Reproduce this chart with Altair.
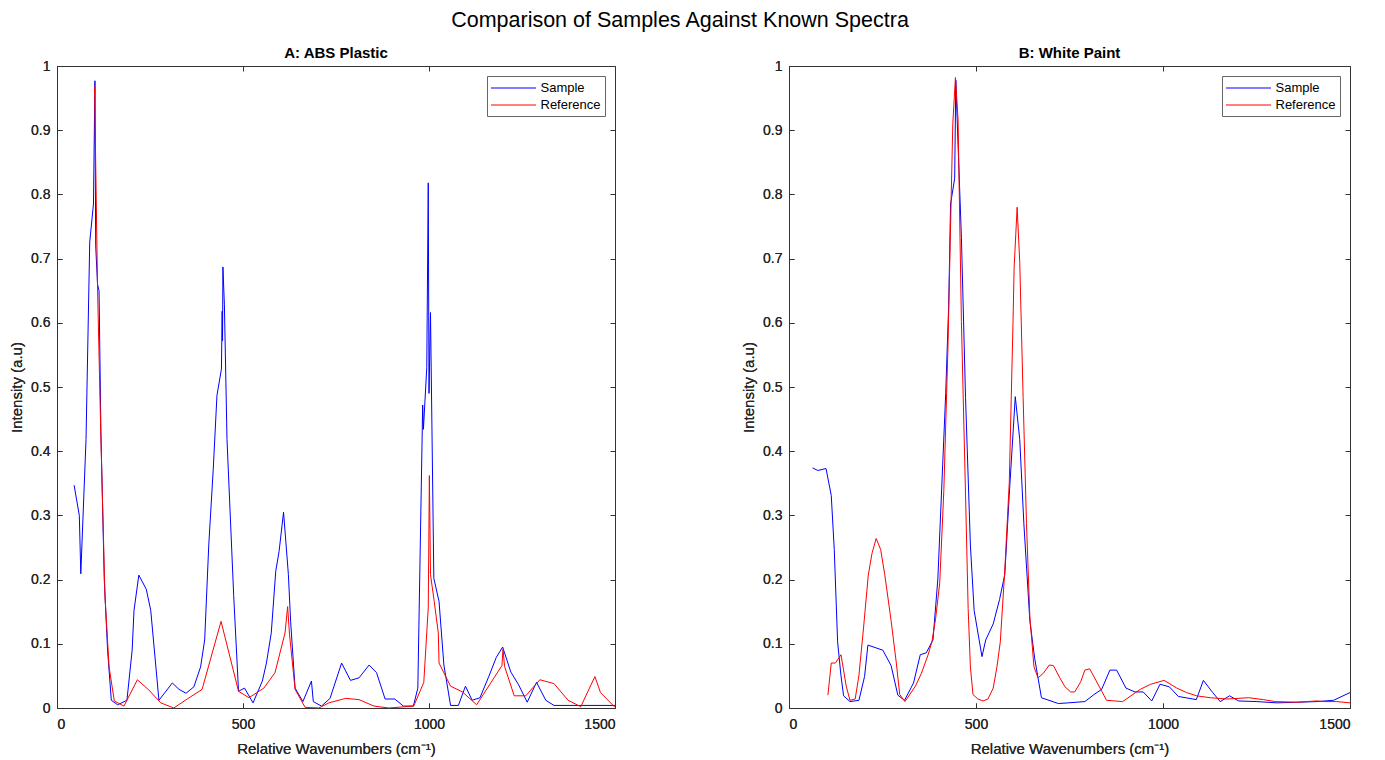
import altair as alt
import pandas as pd

# ---- Panel A: ABS Plastic ----
a_sample_x = [46, 60, 64, 78, 88, 98, 102, 104, 109, 113, 118, 127, 136, 146, 163, 188, 202, 207, 220, 240,
              252, 274, 310, 328, 347, 368, 386, 397, 408, 420, 430, 442, 444, 445, 446, 450, 457, 475, 488, 504,
              527, 552, 563, 576, 588, 597, 609, 622, 628, 640, 661, 684, 689, 711, 734, 765, 789, 812, 839, 859,
              882, 908, 931, 958, 970, 983, 985, 994, 998, 1000, 1004, 1013, 1027, 1040, 1058, 1079, 1098, 1116,
              1137, 1160, 1181, 1198, 1220, 1241, 1264, 1289, 1314, 1336, 1500]
a_sample_y = [0.347, 0.300, 0.209, 0.418, 0.726, 0.785, 0.977, 0.72, 0.66, 0.65, 0.43, 0.20, 0.09, 0.012, 0.005,
              0.012, 0.09, 0.152, 0.207, 0.185, 0.152, 0.012, 0.039, 0.029, 0.023, 0.033, 0.064, 0.106, 0.254,
              0.372, 0.487, 0.528, 0.618, 0.572, 0.687, 0.628, 0.418, 0.175, 0.026, 0.031, 0.008, 0.042, 0.070,
              0.117, 0.213, 0.244, 0.305, 0.208, 0.135, 0.031, 0.010, 0.042, 0.010, 0.003, 0.015, 0.070, 0.043,
              0.047, 0.067, 0.055, 0.014, 0.014, 0.003, 0.003, 0.031, 0.472, 0.434, 0.53, 0.818, 0.49, 0.616,
              0.202, 0.166, 0.067, 0.004, 0.004, 0.034, 0.012, 0.016, 0.048, 0.079, 0.095, 0.056, 0.036, 0.009,
              0.040, 0.012, 0.004, 0.004]
a_ref_x = [101, 109, 118, 129, 140, 154, 180, 216, 247, 279, 314, 350, 390, 441, 488, 516, 556, 586, 613, 620,
           625, 640, 667, 704, 731, 776, 812, 852, 892, 959, 986, 998, 1001, 1004, 1014, 1025, 1027, 1058, 1090,
           1128, 1196, 1199, 1203, 1229, 1260, 1298, 1336, 1374, 1408, 1446, 1461, 1500]
a_ref_y = [0.968, 0.654, 0.42, 0.174, 0.064, 0.011, 0.003, 0.044, 0.028, 0.008, 0.0, 0.014, 0.029, 0.135, 0.026,
           0.016, 0.031, 0.055, 0.117, 0.158, 0.115, 0.029, 0.001, 0.0, 0.008, 0.015, 0.013, 0.003, 0.0, 0.003,
           0.04, 0.156, 0.362, 0.208, 0.166, 0.117, 0.07, 0.034, 0.025, 0.005, 0.066, 0.092, 0.065, 0.019, 0.019,
           0.044, 0.038, 0.012, 0.002, 0.049, 0.024, 0.001]

# ---- Panel B: White Paint ----
b_sample_x = [63, 77, 99, 113, 121, 130, 139, 146, 163, 187, 202, 211, 251, 273, 291, 309, 333, 351, 367, 385,
              398, 409, 419, 427, 432, 443, 446, 452, 461, 472, 485, 495, 516, 526, 546, 563, 577, 589, 605, 617,
              628, 644, 657, 675, 720, 747, 791, 818, 836, 858, 876, 901, 925, 947, 970, 992, 1017, 1041, 1089,
              1108, 1133, 1153, 1178, 1202, 1251, 1305, 1358, 1412, 1456, 1500]
b_sample_y = [0.374, 0.370, 0.373, 0.331, 0.247, 0.103, 0.05, 0.019, 0.010, 0.012, 0.049, 0.098, 0.090, 0.066,
              0.020, 0.012, 0.039, 0.083, 0.086, 0.106, 0.201, 0.352, 0.49, 0.628, 0.785, 0.825, 0.978, 0.877,
              0.733, 0.484, 0.254, 0.152, 0.080, 0.106, 0.131, 0.169, 0.208, 0.333, 0.485, 0.418, 0.287, 0.136,
              0.077, 0.016, 0.007, 0.008, 0.010, 0.022, 0.029, 0.059, 0.059, 0.031, 0.025, 0.025, 0.011, 0.037,
              0.033, 0.018, 0.013, 0.043, 0.024, 0.010, 0.019, 0.011, 0.010, 0.008, 0.009, 0.010, 0.012, 0.024]
b_ref_x = [104, 113, 124, 139, 153, 163, 177, 187, 199, 212, 222, 233, 245, 256, 273, 287, 296, 310, 338, 354,
           372, 382, 392, 403, 414, 425, 434, 438, 445, 452, 461, 472, 479, 485, 492, 505, 519, 532, 546, 556,
           565, 577, 589, 599, 602, 610, 617, 626, 635, 644, 655, 666, 680, 696, 707, 724, 738, 753, 764, 780,
           791, 804, 830, 849, 871, 892, 939, 967, 1003, 1037, 1063, 1090, 1126, 1171, 1229, 1269, 1300, 1358,
           1412, 1430, 1465, 1500]
b_ref_y = [0.020, 0.070, 0.070, 0.083, 0.034, 0.012, 0.014, 0.051, 0.123, 0.207, 0.241, 0.264, 0.247, 0.208,
           0.136, 0.070, 0.021, 0.010, 0.034, 0.054, 0.083, 0.103, 0.139, 0.195, 0.339, 0.562, 0.805, 0.91, 0.982,
           0.917, 0.602, 0.333, 0.155, 0.064, 0.021, 0.014, 0.011, 0.014, 0.031, 0.064, 0.103, 0.215, 0.352,
           0.602, 0.687, 0.780, 0.694, 0.484, 0.287, 0.142, 0.064, 0.047, 0.054, 0.067, 0.066, 0.047, 0.033,
           0.025, 0.025, 0.041, 0.059, 0.061, 0.033, 0.012, 0.011, 0.010, 0.029, 0.037, 0.043, 0.031, 0.024,
           0.019, 0.016, 0.014, 0.016, 0.013, 0.010, 0.009, 0.011, 0.010, 0.010, 0.008]

series_names = ["Sample", "Reference"]
series_colors = ["#0000ff", "#ff0000"]
x_ticks = [0, 500, 1000, 1500]
y_ticks = [0, 0.1, 0.2, 0.3, 0.4, 0.5, 0.6, 0.7, 0.8, 0.9, 1]

FONT = "Liberation Sans, Arial, Helvetica, sans-serif"
INK = "#262626"


def make_df(sx, sy, rx, ry):
    return pd.concat([
        pd.DataFrame({"x": sx, "y": sy, "series": "Sample"}),
        pd.DataFrame({"x": rx, "y": ry, "series": "Reference"}),
    ], ignore_index=True)


def panel(df, title, w):
    base = alt.Chart(df)
    xs = alt.Scale(domain=[0, 1500], nice=False, zero=False)
    ys = alt.Scale(domain=[0, 1], nice=False)
    color = alt.Color(
        "series:N",
        scale=alt.Scale(domain=series_names, range=series_colors),
        legend=alt.Legend(title=None, orient="top-right"),
    )
    xb = alt.X("x:Q", scale=xs, axis=alt.Axis(
        orient="bottom", values=x_ticks, format="d", title="Relative Wavenumbers (cm\u207b\u00b9)",
        offset=-5, tickSize=5, domain=False, grid=False, labelPadding=9, titlePadding=10))
    yl = alt.Y("y:Q", scale=ys, axis=alt.Axis(
        orient="left", values=y_ticks, format="~g", title="Intensity (a.u)",
        offset=-5, tickSize=5, domain=False, grid=False, labelPadding=7, titlePadding=6))
    sample = base.transform_filter(alt.datum.series == "Sample").mark_line(
        strokeWidth=1, clip=True).encode(x=xb, y=yl, color=color)
    ref = base.transform_filter(alt.datum.series == "Reference").mark_line(
        strokeWidth=1, clip=True).encode(x=xb, y=yl, color=color)
    frame = base.mark_line(strokeOpacity=0).encode(
        x=alt.X("x:Q", scale=xs, axis=alt.Axis(
            orient="top", values=x_ticks, labels=False, title=None, offset=-5, tickSize=5,
            domain=False, grid=False)),
        y=alt.Y("y:Q", scale=ys, axis=alt.Axis(
            orient="right", values=y_ticks, labels=False, title=None, offset=-5, tickSize=5,
            domain=False, grid=False)),
    )
    return alt.layer(sample, ref, frame).resolve_axis(x="independent", y="independent").properties(
        width=w, height=642,
        title=alt.TitleParams(title, fontSize=15, fontWeight="bold", font=FONT, color="black",
                              anchor="middle", frame="group", offset=-2),
    )


left = panel(make_df(a_sample_x, a_sample_y, a_ref_x, a_ref_y), "A: ABS Plastic", 558)
right = panel(make_df(b_sample_x, b_sample_y, b_ref_x, b_ref_y), "B: White Paint", 561)

chart = alt.hconcat(left, right, spacing=125).resolve_scale(
    color="independent", x="independent", y="independent"
).resolve_legend(color="independent").properties(
    title=alt.TitleParams("Comparison of Samples Against Known Spectra", fontSize=21.5,
                          fontWeight="normal", font=FONT, color="black", anchor="middle", offset=14),
    padding={"left": 1, "top": 2, "right": 5, "bottom": 0},
).configure_view(
    stroke="#333333", strokeWidth=1
).configure_axis(
    labelFont=FONT, labelFontSize=14, labelColor=INK, titleFont=FONT, titleFontSize=15,
    titleFontWeight="normal", titleColor=INK, tickColor="#333333", tickWidth=1
).configure_legend(
    labelFont=FONT, labelFontSize=13, labelColor="black", strokeColor="#666666", fillColor="white",
    padding=4, symbolType="M-3,0H3", symbolSize=225, symbolStrokeWidth=1, symbolOffset=14.5,
    labelOffset=19, rowPadding=2, offset=10, cornerRadius=0
)

chart.save("out.html", embed_options={"renderer": "svg", "actions": False})
